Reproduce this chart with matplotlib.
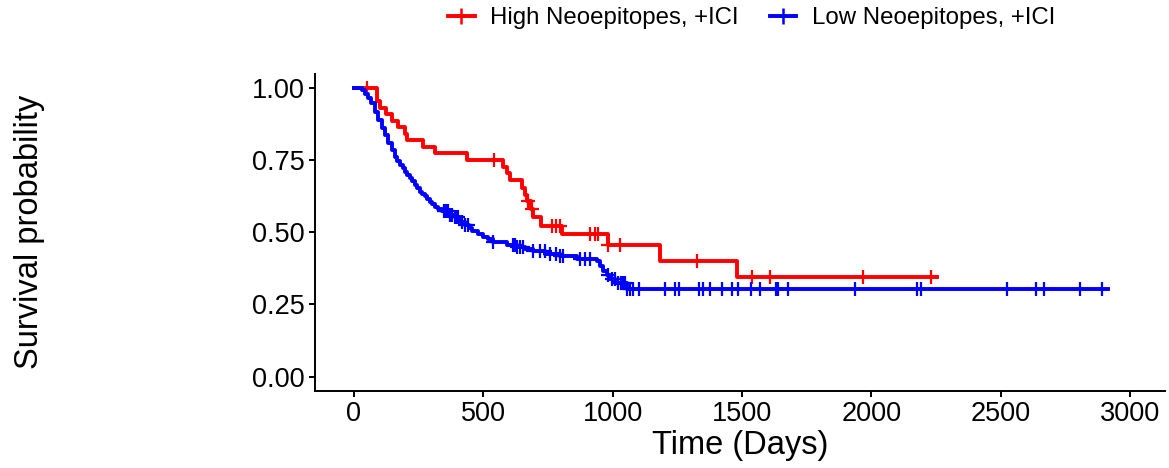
import matplotlib
matplotlib.use("Agg")
import matplotlib.pyplot as plt
from matplotlib.lines import Line2D
import numpy as np

plt.rcParams["font.family"] = ["Liberation Sans", "DejaVu Sans"]

# Kaplan-Meier steps (time in days, survival after the drop)
red_label = "High Neoepitopes, +ICI"
red_time = [0, 88, 100, 126, 146, 171, 197, 205, 268, 313, 436, 577, 590, 603,
            648, 661, 670, 686, 692, 725, 803, 983, 1183, 1479]
red_surv = [1.0, 0.955, 0.932, 0.909, 0.886, 0.864, 0.841, 0.818, 0.795, 0.773,
            0.750, 0.727, 0.705, 0.680, 0.655, 0.630, 0.607, 0.580, 0.552, 0.522,
            0.495, 0.455, 0.402, 0.345]
red_end = 2252
red_censor = [50, 541, 674, 688, 764, 781, 796, 912, 932, 945, 983, 1028, 1325,
              1537, 1608, 1969, 2230]

blue_label = "Low Neoepitopes, +ICI"
blue_time = [0, 31, 43, 55, 68, 81, 94, 107, 120, 133, 146, 158, 168, 178, 188,
             197, 206, 216, 226, 236, 245, 255, 264, 274, 284, 294, 303, 313, 326,
             339, 365, 390, 410, 430, 445, 455, 478, 500, 520, 538, 590, 630, 660,
             692, 740, 796, 861, 938, 951, 963, 977, 990, 1010, 1054]
blue_surv = [1.0, 0.993, 0.980, 0.965, 0.947, 0.915, 0.889, 0.860, 0.837, 0.809,
             0.785, 0.762, 0.748, 0.734, 0.722, 0.710, 0.699, 0.688, 0.676, 0.664,
             0.652, 0.641, 0.632, 0.624, 0.615, 0.605, 0.597, 0.589, 0.580, 0.572,
             0.561, 0.553, 0.537, 0.525, 0.515, 0.503, 0.493, 0.485, 0.476, 0.468,
             0.457, 0.448, 0.442, 0.434, 0.426, 0.418, 0.407, 0.399, 0.382, 0.365,
             0.352, 0.337, 0.325, 0.304]
blue_end = 2915
blue_censor = [347, 358, 363, 371, 378, 391, 397, 404, 417, 430, 441, 538, 615,
               622, 630, 642, 653, 692, 719, 738, 758, 783, 796, 808, 874, 893,
               912, 983, 996, 1009, 1022, 1031, 1039, 1048, 1057, 1067, 1080, 1103,
               1202, 1241, 1257, 1335, 1348, 1376, 1421, 1460, 1486, 1533, 1569,
               1631, 1640, 1676, 1937, 2178, 2190, 2523, 2635, 2667, 2806, 2890]

x_ticks = [0, 500, 1000, 1500, 2000, 2500, 3000]
y_ticks = [0.0, 0.25, 0.5, 0.75, 1.0]


def surv_at(times, surv, t):
    # value of the step function (right-continuous) at time t
    i = np.searchsorted(times, t, side="right") - 1
    return np.asarray(surv)[i]


fig = plt.figure(figsize=(11.69, 4.68), dpi=100)
ax = fig.add_axes([0.2695, 0.1645, 0.7271, 0.6784])

groups = [
    (red_label, "#FF0000", red_time, red_surv, red_end, red_censor, 3),
    (blue_label, "#0000FF", blue_time, blue_surv, blue_end, blue_censor, 5),
]
handles = []
for label, color, t, s, end, cens, z in groups:
    tt = list(t) + [end]
    ss = list(s) + [s[-1]]
    ax.step(tt, ss, where="post", color=color, lw=2.8, zorder=z)
    cy = surv_at(t, s, np.array(cens))
    ax.plot(cens, cy, ls="none", marker="+", ms=10, mew=1.6, color=color, zorder=z + 1)
    handles.append(Line2D([], [], color=color, lw=2.8, marker="+", ms=12, mew=1.8,
                          label=label))

ax.set_xlim(-150, 3135)
ax.set_ylim(-0.05, 1.05)
ax.set_xticks(x_ticks)
ax.set_xticklabels([str(v) for v in x_ticks])
ax.set_yticks(y_ticks)
ax.set_yticklabels(["%.2f" % v for v in y_ticks])

for side in ["top", "right"]:
    ax.spines[side].set_visible(False)
for side in ["left", "bottom"]:
    ax.spines[side].set_linewidth(1.4)
ax.tick_params(axis="both", direction="out", length=4.5, width=1.4,
               labelsize=19.5, colors="black", pad=3)

ax.set_xlabel("Time (Days)", fontsize=23.5, labelpad=2)
ax.set_ylabel("Survival probability", fontsize=23.5)
ax.yaxis.set_label_coords(-0.318, 0.5)

fig.legend(handles=handles, loc="center", bbox_to_anchor=(0.643, 0.961), ncol=2,
           frameon=False, fontsize=17.3, handlelength=1.1, handletextpad=0.65,
           columnspacing=1.3, borderpad=0.2)

fig.savefig("out.png", dpi=100)
